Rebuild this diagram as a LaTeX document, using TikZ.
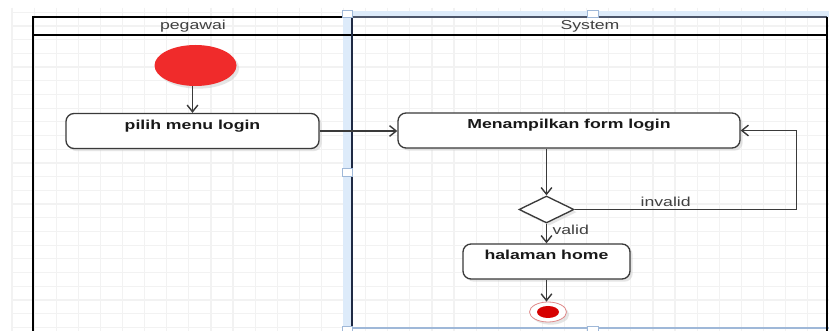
\documentclass[tikz,border=0pt]{standalone}
\usepackage{fontspec}
\setmainfont{Liberation Sans}
\newfontfamily\dfont[FakeStretch=1.36]{Liberation Sans}
\usetikzlibrary{arrows.meta,shapes.geometric,shadows}
\definecolor{lineg}{HTML}{3A3A3A}
\definecolor{selblue}{HTML}{DDEBFA}
\definecolor{selline}{HTML}{9FB8D8}
\definecolor{navy}{HTML}{1F2A44}
\definecolor{gridc}{HTML}{F2F2F2}
\definecolor{startred}{HTML}{F02B2B}
\definecolor{endred}{HTML}{D60000}
\definecolor{endring}{HTML}{E08A8A}
\tikzset{
  txt/.style={font=\dfont\fontsize{9.75pt}{11pt}\selectfont, text=black!75},
  action/.style={draw=lineg, line width=1pt, fill=white, rounded corners=6pt,
    inner xsep=0pt, inner ysep=0pt, text height=12pt, text depth=14.25pt,
    font=\dfont\bfseries\fontsize{9.75pt}{11pt}\selectfont, text=black!90,
    drop shadow={shadow xshift=2pt, shadow yshift=-2pt, fill=black!20, opacity=0.5}},
  arr/.style={draw=lineg, line width=1.05pt, -{Straight Barb[length=5pt,width=8pt,line width=1.05pt]}},
  lanel/.style={line width=1.5pt, draw=black},
  handle/.style={draw=selline, fill=white, line width=0.6pt},
}
\begin{document}
\begin{tikzpicture}[x=0.75pt,y=-0.75pt]
\useasboundingbox (0,0) rectangle (829,331);
\fill[white] (0,0) rectangle (829,331);
% grid
\foreach \i in {0,...,37} \draw[gridc, line width=0.9pt] ({12+22.1*\i},8) -- ({12+22.1*\i},331);
\foreach \j in {0,...,23} \draw[gridc, line width=0.9pt] (11,{12.3+13.7*\j}) -- (829,{12.3+13.7*\j});
% selection highlight
\fill[selblue] (343,11) rectangle (352,331);
\fill[selblue] (343,11) rectangle (829,17);
\draw[selline, line width=0.8pt] (343,328) -- (829,328);
% lanes
\draw[lanel] (33,331) -- (33,17) -- (352,17);
\draw[lanel, draw=navy!80] (352,17) -- (827,17);
\draw[lanel] (33,35) -- (827,35);
\draw[lanel] (827,17) -- (827,331);
\draw[navy, line width=2.2pt] (352,17) -- (352,326);
\node[txt, anchor=base] (tp) at (193,30) {pegawai};
\node[txt, anchor=base] (ts) at (590,30) {System};
% handles
\draw[handle] (342,10) rectangle (352,17);
\draw[handle] (587,10) rectangle (598,17);
\draw[handle] (342,168) rectangle (352,176);
\draw[handle] (342,326) rectangle (352,333);
\draw[handle] (587,326) rectangle (598,333);
% nodes
\node[ellipse, fill=startred, minimum width=61.5pt, minimum height=30.75pt, inner sep=0pt,
  drop shadow={shadow xshift=2pt, shadow yshift=-2pt, fill=black!20, opacity=0.5}] (start) at (195.5,65.5) {};
\node[action, minimum width=189.75pt] (pilih) at (192.5,131) {pilih menu login};
\node[action, minimum width=256.5pt] (form) at (569,130.5) {Menampilkan form login};
\node[diamond, draw=lineg, fill=white, line width=1pt, minimum width=41.25pt, minimum height=20.25pt,
  inner sep=0pt, aspect=2.04,
  drop shadow={shadow xshift=2pt, shadow yshift=-2pt, fill=black!20, opacity=0.5}] (dec) at (546.5,209.5) {};
\node[action, minimum width=125.25pt] (home) at (546.5,261.5) {halaman home};
\node[ellipse, draw=endring, fill=white, line width=0.6pt, minimum width=27.75pt, minimum height=15pt, inner sep=0pt,
  drop shadow={shadow xshift=2pt, shadow yshift=-2pt, fill=black!20, opacity=0.5}] (endo) at (548,312) {};
\node[ellipse, fill=endred, minimum width=16.5pt, minimum height=9pt, inner sep=0pt] (endi) at (endo) {};
% edges
\draw[arr] (pilih.north |- start.south) -- (pilih.north);
\draw[arr] (pilih.east) -- (pilih.east -| form.west);
\draw[arr] (form.south -| dec.north) -- (dec.north);
\draw[arr] (dec.east) -- node[txt, above, pos=0.41, inner sep=1.5pt] (linv) {invalid} ++(222,0) |- (form.east);
\draw[arr] (dec.south) -- node[txt, right, pos=0.3, inner xsep=4pt] (lval) {valid} (home.north);
\draw[arr] (home.south) -- (home.south |- endo.north);
\end{tikzpicture}
\end{document}
